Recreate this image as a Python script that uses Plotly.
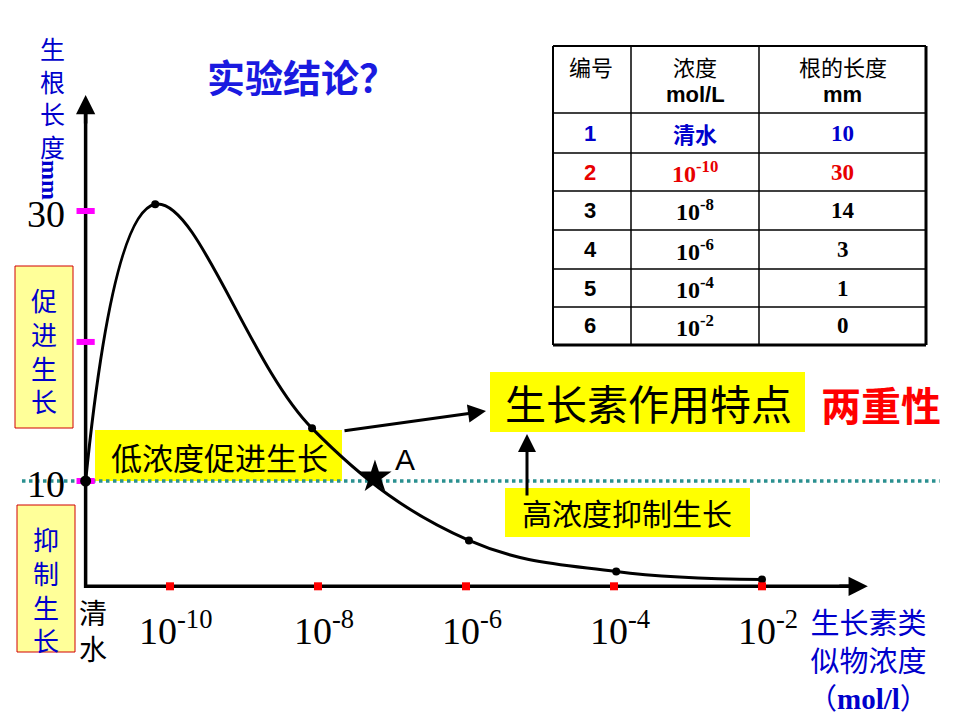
import plotly.graph_objects as go

# ---------------- data ----------------
table_header_ids = "编号"
table_header_conc = ["浓度", "mol/L"]
table_header_len = ["根的长度", "mm"]
table_ids = ["1", "2", "3", "4", "5", "6"]
table_conc = ["清水", "10<sup>-10</sup>", "10<sup>-8</sup>", "10<sup>-6</sup>", "10<sup>-4</sup>", "10<sup>-2</sup>"]
table_len = ["10", "30", "14", "3", "1", "0"]
table_row_colors = ["#0000CC", "#E80000", "black", "black", "black", "black"]

tick_exp = [-10, -8, -6, -4, -2]
tick_labels = ["10<sup>-10</sup>", "10<sup>-8</sup>", "10<sup>-6</sup>", "10<sup>-4</sup>", "10<sup>-2</sup>"]

# curve as drawn on the slide (log10 concentration, root length mm)
curve_logc = [-11.14, -10.2, -8.08, -5.96, -3.97, -2.0]
curve_len = [10, 30.5, 13.9, 5.6, 3.3, 2.7]

y_ticks = [10, 20.3, 30]
y_tick_labels = ["10", "30"]
y_tick_label_vals = [10, 30]

point_A = (-7.23, 10.3)
axis_origin = (-11.14, 2.2)
x_axis_end = -0.57
y_axis_end = 38.6

# ---------------- helpers ----------------
W, H = 960, 720
def PX(p):
    return p / W
def PY(p):
    return 1 - p / H

CJK = "Noto Sans CJK SC"
SERIF = "Liberation Serif"
SANS = "Liberation Sans"
BLUE = "#0000CC"

fig = go.Figure()

# horizontal dotted reference at y=10
fig.add_trace(go.Scatter(x=[-12.0, 0.4], y=[10, 10], mode="lines",
                         line=dict(color="#2A9090", width=3.5, dash="dot"),
                         hoverinfo="skip", showlegend=False))

# axis lines (arrow heads added as annotations)
fig.add_trace(go.Scatter(x=[axis_origin[0], axis_origin[0], x_axis_end - 0.15],
                         y=[y_axis_end - 1.0, axis_origin[1], axis_origin[1]], mode="lines",
                         line=dict(color="black", width=3.5),
                         hoverinfo="skip", showlegend=False))

# curve
fig.add_trace(go.Scatter(x=curve_logc, y=curve_len, mode="lines",
                         line=dict(color="black", width=3, shape="spline", smoothing=1.1),
                         hoverinfo="skip", showlegend=False))
fig.add_trace(go.Scatter(x=curve_logc[1:], y=curve_len[1:], mode="markers",
                         marker=dict(color="black", size=8),
                         hoverinfo="skip", showlegend=False))

# magenta y ticks
fig.add_trace(go.Scatter(x=[axis_origin[0]] * len(y_ticks), y=y_ticks, mode="markers",
                         marker=dict(symbol="line-ew", size=13, line=dict(color="#FF00FF", width=6)),
                         hoverinfo="skip", showlegend=False))
# origin dot for clear water
fig.add_trace(go.Scatter(x=[curve_logc[0]], y=[curve_len[0]], mode="markers",
                         marker=dict(color="black", size=11),
                         hoverinfo="skip", showlegend=False))
# red x ticks
fig.add_trace(go.Scatter(x=tick_exp, y=[axis_origin[1]] * len(tick_exp), mode="markers",
                         marker=dict(symbol="square", color="#FF0000", size=8),
                         hoverinfo="skip", showlegend=False))
# star A
fig.add_trace(go.Scatter(x=[point_A[0]], y=[point_A[1]], mode="markers",
                         marker=dict(symbol="star", color="black", size=25),
                         hoverinfo="skip", showlegend=False))

shapes = []
ann = []

# arrow heads of the axes
ann.append(dict(x=axis_origin[0], y=y_axis_end, ax=0, ay=30,
                xref="x", yref="y", text="", showarrow=True,
                arrowhead=2, arrowsize=1.1, arrowwidth=3.5, arrowcolor="black"))
ann.append(dict(x=x_axis_end, y=axis_origin[1], ax=-30, ay=0,
                xref="x", yref="y", text="", showarrow=True,
                arrowhead=2, arrowsize=1.1, arrowwidth=3.5, arrowcolor="black"))

# x tick labels
for e, lab in zip(tick_exp, tick_labels):
    ann.append(dict(x=e, y=axis_origin[1], xref="x", yref="y", text=lab, showarrow=False,
                    yshift=-42, xshift=6, font=dict(family=SERIF, size=38, color="black")))
# y tick labels
for v, lab in zip(y_tick_label_vals, y_tick_labels):
    ann.append(dict(x=axis_origin[0], y=v, xref="x", yref="y", text=lab, showarrow=False,
                    xshift=-40, yshift=-3, font=dict(family=SERIF, size=38, color="black")))

def txt(x, y, text, size, color="black", family=CJK, angle=0, **kw):
    ann.append(dict(x=PX(x), y=PY(y), xref="paper", yref="paper", text=text, showarrow=False,
                    textangle=angle, font=dict(family=family, size=size, color=color),
                    xanchor="center", yanchor="middle", **kw))

def vtxt(x, y, chars, size, color):
    txt(x, y, "<br>".join(chars), size, color)

def rect(x0, y0, x1, y1, fill, line_color=None, lw=0, layer="below"):
    shapes.append(dict(type="rect", xref="paper", yref="paper", x0=PX(x0), x1=PX(x1),
                       y0=PY(y1), y1=PY(y0), fillcolor=fill,
                       line=dict(color=line_color or fill, width=lw), layer=layer))

def line(x0, y0, x1, y1, w, color="black"):
    shapes.append(dict(type="line", xref="paper", yref="paper", x0=PX(x0), x1=PX(x1),
                       y0=PY(y0), y1=PY(y1), line=dict(color=color, width=w), layer="above"))

# left vertical axis title
vtxt(52, 97, "生根长度", 25, BLUE)
txt(50, 180, "<b>mm</b>", 24, BLUE, family=SERIF, angle=90)

# title
txt(302, 76, "<b>实验结论？</b>", 38, "#1A1AE0")

# side boxes
rect(15, 266, 73, 428, "#FFFF99", "#D00000", 1)
vtxt(44, 350, "促进生长", 26, BLUE)
rect(17, 505, 75, 652, "#FFFF99", "#D00000", 1)
vtxt(46, 589, "抑制生长", 26, BLUE)

# 清水 under axis
vtxt(93, 630, "清水", 28, "black")

# x axis title (three lines in one text)
txt(868, 658, "生长素类<br>似物浓度<br>（<b><span style='font-family:Liberation Serif'>mol/l</span></b>）",
    29, BLUE)

# yellow annotation boxes
rect(95, 430, 342, 481, "#FFFF00")
txt(219, 456, "低浓度促进生长", 31, "black")
rect(490, 372, 805, 432, "#FFFF00")
txt(648, 402, "生长素作用特点", 41, "black")
txt(881, 404, "<b>两重性</b>", 40, "#FF0000")
rect(505, 488, 750, 537, "#FFFF00")
txt(627, 512, "高浓度抑制生长", 30, "black")
txt(405, 460, "A", 30, "black", family=SANS)

# arrows between boxes
ann.append(dict(x=PX(486), y=PY(411), xref="paper", yref="paper", ax=343 - 486, ay=431 - 411,
                text="", showarrow=True, arrowhead=2, arrowsize=1.2, arrowwidth=3, arrowcolor="black"))
ann.append(dict(x=PX(527), y=PY(434), xref="paper", yref="paper", ax=0, ay=497 - 434,
                text="", showarrow=True, arrowhead=2, arrowsize=1.2, arrowwidth=3, arrowcolor="black"))

# table
tx = [553, 631, 759, 926]
ty = [46, 113, 153, 191, 230, 269, 307, 345]
for x in tx[1:-1]:
    line(x, ty[0], x, ty[-1], 1.5)
for y in ty[1:-1]:
    line(tx[0], y, tx[-1], y, 1.5)
line(tx[0], ty[0], tx[-1], ty[0], 2)
line(tx[0], ty[-1], tx[-1], ty[-1], 3)
line(tx[0], ty[0], tx[0], ty[-1], 2)
line(tx[-1], ty[0], tx[-1], ty[-1], 3)

cx = [(tx[i] + tx[i + 1]) / 2 for i in range(3)]
txt(cx[0] - 1, 66, table_header_ids, 22, "black")
txt(cx[1], 66, table_header_conc[0], 22, "black")
txt(cx[1], 95, "<b>" + table_header_conc[1] + "</b>", 22, "black", family=SANS)
txt(cx[2], 66, table_header_len[0], 22, "black")
txt(cx[2], 95, "<b>" + table_header_len[1] + "</b>", 22, "black", family=SANS)
for i in range(6):
    yc = (ty[i + 1] + ty[i + 2]) / 2
    col = table_row_colors[i]
    txt(cx[0] - 2, yc, "<b>" + table_ids[i] + "</b>", 22, col, family=SANS)
    if table_conc[i] == "清水":
        txt(cx[1], yc, "<b>" + table_conc[i] + "</b>", 22, col)
    else:
        txt(cx[1], yc, "<b>" + table_conc[i] + "</b>", 24, col, family=SERIF)
    txt(cx[2], yc, "<b>" + table_len[i] + "</b>", 23, col, family=SERIF)

fig.update_layout(
    width=W, height=H, autosize=False,
    margin=dict(l=0, r=0, t=0, b=0, pad=0),
    paper_bgcolor="white", plot_bgcolor="rgba(0,0,0,0)",
    xaxis=dict(range=[-12.297, 0.676], visible=False, fixedrange=True),
    yaxis=dict(range=[-7.704, 45.63], visible=False, fixedrange=True),
    shapes=shapes, annotations=ann, showlegend=False,
)

fig.write_html("out.html")
